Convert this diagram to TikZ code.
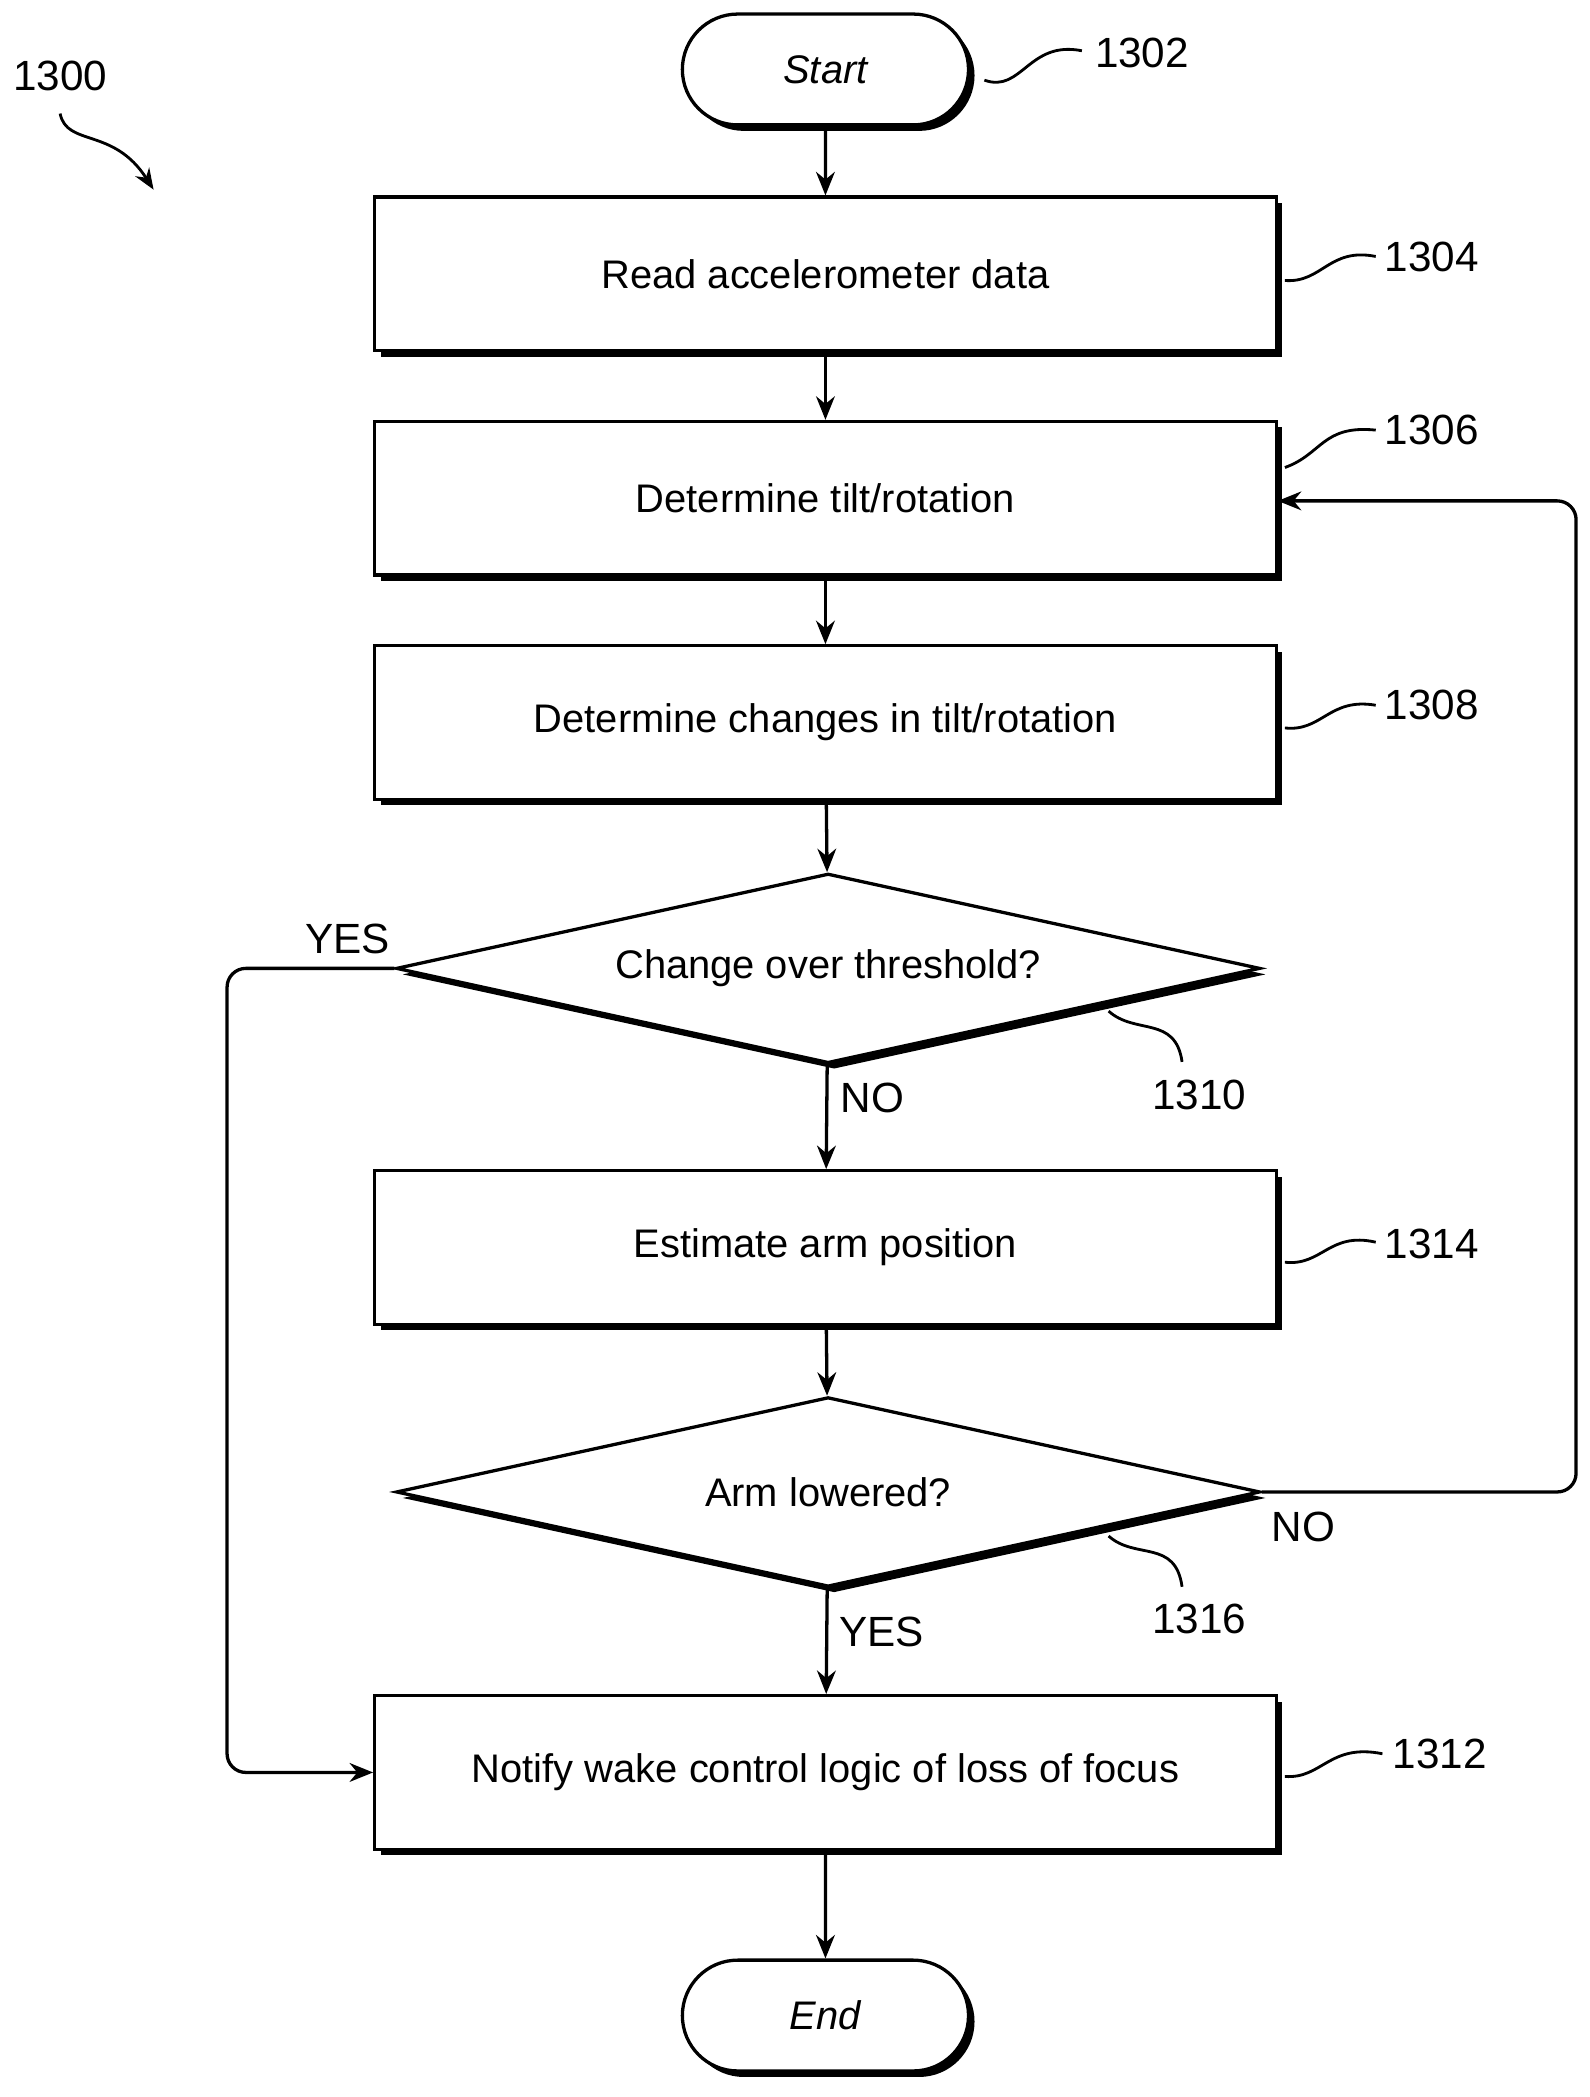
\documentclass[tikz,border=0pt]{standalone}
\usepackage{fontspec}
\setmainfont{Liberation Sans}
\usetikzlibrary{shapes.geometric,shapes.misc,shadows,arrows.meta}
\begin{document}
\begin{tikzpicture}[x=0.02cm,y=-0.02cm,
  base/.style={draw,line width=1.4pt,fill=white,font=\fontsize{17}{20}\selectfont,
    drop shadow={shadow xshift=0.09cm,shadow yshift=-0.09cm,fill=black,opacity=1}},
  box/.style={base,rectangle,minimum width=13.5cm,minimum height=2.3cm},
  term/.style={base,rounded rectangle,minimum width=4.52cm,minimum height=1.66cm,font=\fontsize{17}{20}\selectfont\itshape},
  dec/.style={base,diamond,aspect=4.56,minimum width=12.94cm,minimum height=2.84cm,inner sep=0pt},
  arr/.style={line width=1.4pt,-{Stealth[length=10pt,width=8pt]}},
  lab/.style={font=\fontsize{18}{20}\selectfont},
  sq/.style={line width=1.2pt}]
\useasboundingbox (0,0) rectangle (1190,1570);
\node[term] (start) at (618,52) {Start};
\node[box] (b1304) at (618,205) {Read accelerometer data};
\node[box] (b1306) at (618,373) {Determine tilt/rotation};
\node[box] (b1308) at (618,541) {Determine changes in tilt/rotation};
\node[dec] (d1310) at (620,725) {Change over threshold?};
\node[box] (b1314) at (618,934) {Estimate arm position};
\node[dec] (d1316) at (620,1117) {Arm lowered?};
\node[box] (b1312) at (618,1327) {Notify wake control logic of loss of focus};
\node[term] (end) at (618,1509) {End};
\draw[arr] (start) -- (b1304);
\draw[arr] (b1304) -- (b1306);
\draw[arr] (b1306) -- (b1308);
\draw[arr] (b1308) -- (d1310);
\draw[arr] (d1310) -- (b1314);
\draw[arr] (b1314) -- (d1316);
\draw[arr] (d1316) -- (b1312);
\draw[arr] (b1312) -- (end);
\coordinate (r1) at (1180,1117); \coordinate (r2) at (1180,375);
\draw[arr,rounded corners=8pt] (d1316.east) -- (r1) -- (r2) -- (b1306.east|-r2);
\coordinate (l1) at (170,725); \coordinate (l2) at (170,1327);
\draw[arr,rounded corners=8pt] (d1310.west) -- (l1) -- (l2) -- (b1312.west);
\node[lab] (y1) at (260,703) {YES};
\node[lab] (n1) at (653,822) {NO};
\node[lab] (n2) at (976,1143) {NO};
\node[lab] (y2) at (660,1222) {YES};
\node[lab] (t1300) at (45,57) {1300};
\node[lab] (t1302) at (855,40) {1302};
\node[lab] (t1304) at (1072,192) {1304};
\node[lab] (t1306) at (1072,322) {1306};
\node[lab] (t1308) at (1072,528) {1308};
\node[lab] (t1310) at (898,820) {1310};
\node[lab] (t1314) at (1072,931) {1314};
\node[lab] (t1316) at (898,1212) {1316};
\node[lab] (t1312) at (1078,1313) {1312};
\draw[sq] (737,60) .. controls (765,70) and (770,30) .. (810,38);
\draw[sq] (962,210) .. controls (990,212) and (995,185) .. (1030,192);
\draw[sq] (962,350) .. controls (990,340) and (990,318) .. (1030,322);
\draw[sq] (962,545) .. controls (990,548) and (995,522) .. (1030,528);
\draw[sq] (962,945) .. controls (990,948) and (995,922) .. (1030,930);
\draw[sq] (962,1330) .. controls (990,1332) and (995,1305) .. (1035,1313);
\draw[sq] (830,757) .. controls (850,775) and (880,760) .. (885,795);
\draw[sq] (830,1150) .. controls (850,1168) and (880,1152) .. (885,1188);
\draw[sq,-{Stealth[length=9pt,width=7pt]}] (45,85) .. controls (50,110) and (85,95) .. (115,142);
\end{tikzpicture}
\end{document}
